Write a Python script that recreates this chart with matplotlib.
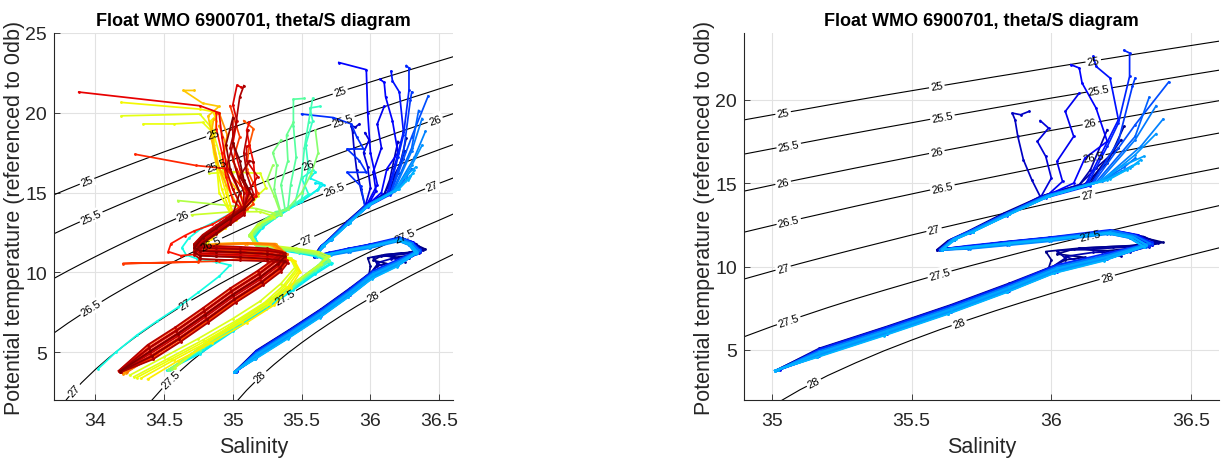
import numpy as np
import matplotlib
matplotlib.use('Agg')
import matplotlib.pyplot as plt

plt.rcParams['font.family'] = ['Liberation Sans', 'DejaVu Sans']

W, H = 1221, 460

# ---------------- isopycnals (sigma-theta), potential temperature along each level ----------------
sig_levels = [25, 25.5, 26, 26.5, 27, 27.5, 28]
sig_sal_grid = [33.7, 33.8, 33.9, 34.0, 34.1, 34.2, 34.3, 34.4, 34.5, 34.6,
                34.7, 34.8, 34.9, 35.0, 35.1, 35.2, 35.3, 35.4, 35.5, 35.6,
                35.7, 35.8, 35.9, 36.0, 36.1, 36.2, 36.3, 36.4, 36.5, 36.6]
nan = np.nan
sig_temp = [
    [14.86, 15.22, 15.57, 15.91, 16.25, 16.58, 16.91, 17.23, 17.55, 17.86, 18.18, 18.48, 18.79, 19.09, 19.38,
     19.68, 19.97, 20.26, 20.54, 20.82, 21.10, 21.38, 21.65, 21.93, 22.20, 22.46, 22.73, 22.99, 23.25, 23.51],
    [12.42, 12.82, 13.21, 13.59, 13.96, 14.33, 14.69, 15.05, 15.40, 15.74, 16.08, 16.41, 16.74, 17.06, 17.38,
     17.70, 18.01, 18.32, 18.62, 18.93, 19.22, 19.52, 19.81, 20.10, 20.38, 20.67, 20.95, 21.22, 21.50, 21.77],
    [9.62, 10.09, 10.54, 10.98, 11.41, 11.83, 12.24, 12.64, 13.03, 13.41, 13.79, 14.16, 14.52, 14.88, 15.23,
     15.57, 15.91, 16.24, 16.57, 16.90, 17.22, 17.54, 17.85, 18.16, 18.46, 18.77, 19.06, 19.36, 19.65, 19.94],
    [6.20, 6.81, 7.38, 7.92, 8.45, 8.95, 9.43, 9.90, 10.36, 10.80, 11.23, 11.65, 12.06, 12.46, 12.86,
     13.24, 13.62, 13.99, 14.35, 14.71, 15.06, 15.40, 15.74, 16.08, 16.41, 16.73, 17.06, 17.37, 17.69, 18.00],
    [1.00, 2.13, 3.08, 3.91, 4.66, 5.35, 6.00, 6.60, 7.18, 7.73, 8.26, 8.76, 9.25, 9.72, 10.18,
     10.62, 11.05, 11.47, 11.89, 12.29, 12.68, 13.07, 13.44, 13.82, 14.18, 14.54, 14.89, 15.24, 15.58, 15.91],
    [nan, nan, nan, nan, nan, -0.87, 0.73, 1.88, 2.85, 3.69, 4.45, 5.14, 5.79, 6.41, 6.98,
     7.54, 8.07, 8.57, 9.06, 9.54, 10.00, 10.44, 10.88, 11.30, 11.71, 12.11, 12.51, 12.90, 13.27, 13.65],
    [nan, nan, nan, nan, nan, nan, nan, nan, nan, nan, nan, -1.23, 0.45, 1.64, 2.61,
     3.47, 4.23, 4.94, 5.59, 6.21, 6.79, 7.35, 7.88, 8.39, 8.88, 9.36, 9.82, 10.26, 10.70, 11.12],
]

# ---------------- profiles (salinity, potential temperature), with cycle numbers ----------------
blue_cycle = [1, 3, 5, 2, 4, 7, 9, 11, 13, 15, 17, 19, 21, 23, 25, 26, 28, 30, 31, 24, 27, 29]
blue_sal = [
    [35.03,35.17,35.41,35.64,35.85,36.00,36.05,36.12,36.02,36.08,36.20,36.30,36.36,36.40,36.30,36.22,36.00,35.85,35.70,35.60,35.64,35.71,35.84,35.98,36.13,36.22],
    [35.02,35.17,35.41,35.64,35.85,36.02,36.15,36.25,36.18,36.10,36.22,36.32,36.38,36.33,36.24,36.02,35.86,35.72,35.61,35.65,35.72,35.85,35.98,36.14,36.25],
    [35.03,35.18,35.42,35.65,35.86,36.03,36.10,36.05,36.15,36.28,36.35,36.30,36.21,36.00,35.85,35.70,35.59,35.64,35.71,35.84,35.97,36.10,36.14,36.20],
    [35.03,35.17,35.41,35.64,35.85,35.99,36.00,35.98,36.10,36.28,36.38,36.30,36.22,36.00,35.85,35.70,35.59,35.63,35.70,35.83,35.97,36.12,36.20,36.26],
    [35.02,35.17,35.41,35.64,35.85,36.01,36.05,36.02,36.15,36.30,36.37,36.28,36.20,35.98,35.82,35.68,35.60,35.65,35.72,35.85,35.98,36.10,36.16,36.24],
    [35.02,35.17,35.41,35.64,35.85,36.02,36.18,36.33,36.28,36.20,36.00,35.84,35.70,35.61,35.65,35.71,35.84,35.96,35.93,35.90,35.88,35.87,35.86,35.89,35.92],
    [35.02,35.16,35.40,35.63,35.84,36.01,36.20,36.35,36.30,36.21,35.99,35.84,35.69,35.60,35.64,35.70,35.82,35.96,36.00,35.98,35.95,35.99,35.96],
    [35.03,35.18,35.41,35.64,35.85,36.02,36.20,36.36,36.31,36.23,36.01,35.86,35.71,35.61,35.65,35.71,35.84,35.98,36.04,36.02,36.08,36.05,36.10],
    [35.02,35.17,35.41,35.64,35.85,36.02,36.20,36.36,36.30,36.21,36.00,35.85,35.70,35.60,35.64,35.70,35.83,35.97,36.08,36.12,36.20,36.16,36.11,36.10,36.07],
    [35.02,35.17,35.41,35.64,35.85,36.02,36.20,36.36,36.31,36.22,36.00,35.85,35.70,35.60,35.64,35.70,35.83,35.97,36.12,36.18,36.24,36.21,36.16,36.15],
    [35.03,35.17,35.41,35.64,35.85,36.02,36.20,36.36,36.29,36.21,35.99,35.84,35.70,35.61,35.65,35.71,35.84,35.98,36.13,36.20,36.24,36.28,36.28,36.26],
    [35.02,35.17,35.40,35.63,35.84,36.01,36.19,36.35,36.30,36.22,36.00,35.85,35.70,35.60,35.65,35.71,35.84,35.98,36.14,36.24,36.29,36.30],
    [35.02,35.17,35.41,35.64,35.85,36.02,36.20,36.36,36.30,36.22,36.00,35.85,35.70,35.61,35.65,35.71,35.84,35.98,36.15,36.30,36.42],
    [35.01,35.16,35.40,35.63,35.84,36.01,36.19,36.34,36.29,36.21,35.99,35.84,35.70,35.60,35.64,35.70,35.83,35.97,36.16,36.30,36.35],
    [35.02,35.17,35.41,35.64,35.85,36.02,36.20,36.35,36.30,36.22,36.00,35.85,35.71,35.61,35.65,35.72,35.85,35.99,36.17,36.30,36.375],
    [35.02,35.17,35.41,35.64,35.85,36.02,36.20,36.34,36.29,36.21,36.00,35.85,35.70,35.60,35.65,35.71,35.84,35.98,36.18,36.32,36.40],
    [35.01,35.16,35.40,35.63,35.84,36.01,36.19,36.33,36.28,36.20,35.99,35.84,35.70,35.61,35.65,35.71,35.84,35.98,36.19,36.30,36.375],
    [35.02,35.17,35.41,35.64,35.85,36.02,36.20,36.34,36.29,36.21,36.00,35.85,35.71,35.61,35.65,35.72,35.85,35.99,36.20,36.28,36.32],
    [35.01,35.16,35.40,35.63,35.84,36.01,36.19,36.33,36.28,36.20,35.99,35.85,35.71,35.61,35.66,35.72,35.85,35.99,36.21,36.27,36.31],
    [35.02,35.16,35.40,35.63,35.84,36.01,36.19,36.33,36.28,36.20,35.99,35.84,35.70,35.61,35.65,35.71,35.84,35.98,36.19,36.26,36.30],
    [35.01,35.16,35.40,35.63,35.84,36.01,36.19,36.33,36.28,36.21,36.00,35.85,35.71,35.61,35.66,35.72,35.85,35.99,36.18,36.25,36.29],
    [35.02,35.17,35.41,35.64,35.85,36.02,36.20,36.34,36.29,36.21,36.00,35.85,35.71,35.61,35.65,35.72,35.85,35.99,36.17,36.25,36.33],
]
blue_tem = [
    [3.84,5.00,6.32,7.62,8.92,9.95,10.40,10.55,10.75,11.05,10.95,11.10,11.30,11.45,11.85,12.15,11.72,11.48,11.22,11.04,11.62,12.12,13.18,14.22,14.95,16.90],
    [3.83,5.05,6.35,7.65,8.95,10.05,10.50,10.65,10.90,11.10,11.20,11.25,11.42,11.80,12.10,11.78,11.50,11.25,11.05,11.66,12.16,13.22,14.28,15.00,17.60],
    [3.86,5.12,6.42,7.72,9.02,10.10,10.30,10.60,10.85,10.90,11.20,11.80,12.10,11.70,11.45,11.18,10.98,11.58,12.08,13.15,14.22,14.90,15.80,18.20],
    [3.85,5.00,6.30,7.60,8.90,9.90,10.40,10.90,11.10,11.25,11.48,11.90,12.15,11.75,11.50,11.20,11.00,11.55,12.10,13.20,14.25,14.95,16.20,18.40],
    [3.82,5.10,6.40,7.70,9.00,10.05,10.50,10.95,11.05,11.20,11.40,11.85,12.05,11.70,11.45,11.15,11.02,11.65,12.15,13.25,14.30,14.90,15.90,17.10],
    [3.80,4.90,6.20,7.50,8.80,9.95,10.60,11.30,11.80,12.05,11.70,11.45,11.20,11.05,11.65,12.10,13.15,14.20,15.20,16.40,17.80,18.80,19.20,19.10,19.30],
    [3.78,4.75,6.05,7.35,8.65,9.80,10.50,11.30,11.80,12.10,11.60,11.35,11.10,11.00,11.55,12.00,13.05,14.10,15.30,16.60,17.50,18.30,18.75],
    [3.82,4.95,6.25,7.55,8.85,10.00,10.70,11.40,11.90,12.15,11.70,11.45,11.20,11.02,11.62,12.08,13.12,14.18,15.10,16.30,17.80,19.30,20.40],
    [3.78,4.65,5.95,7.25,8.55,9.70,10.45,11.30,11.85,12.10,11.65,11.40,11.15,11.00,11.60,12.05,13.10,14.15,15.00,16.50,17.50,19.50,21.00,21.90,22.10],
    [3.80,4.85,6.15,7.45,8.75,9.90,10.60,11.35,11.85,12.10,11.65,11.40,11.15,11.00,11.60,12.05,13.10,14.15,14.85,16.80,18.80,21.30,22.00,22.60],
    [3.84,5.05,6.35,7.65,8.95,10.10,10.80,11.45,11.95,12.20,11.75,11.50,11.25,11.05,11.70,12.15,13.20,14.25,14.95,17.20,18.60,21.40,22.80,22.96],
    [3.78,4.70,6.00,7.30,8.60,9.75,10.45,11.25,11.75,12.05,11.60,11.35,11.10,10.98,11.58,12.02,13.05,14.12,14.85,17.50,20.80,21.30],
    [3.80,4.90,6.20,7.50,8.80,9.95,10.65,11.35,11.85,12.10,11.65,11.40,11.15,11.02,11.62,12.08,13.12,14.20,15.00,18.50,21.06],
    [3.76,4.60,5.90,7.20,8.50,9.65,10.40,11.20,11.80,12.05,11.60,11.35,11.12,11.00,11.58,12.02,13.05,14.10,15.05,17.80,20.14],
    [3.82,4.95,6.25,7.55,8.85,10.00,10.70,11.40,11.85,12.15,11.70,11.45,11.18,11.03,11.63,12.10,13.15,14.20,15.10,17.60,19.64],
    [3.79,4.75,6.05,7.35,8.65,9.80,10.50,11.30,11.80,12.05,11.62,11.38,11.12,11.00,11.60,12.05,13.10,14.15,15.15,17.20,18.84],
    [3.77,4.65,5.95,7.25,8.55,9.70,10.40,11.20,11.75,12.00,11.58,11.35,11.12,11.02,11.62,12.05,13.08,14.15,15.20,16.70,17.96],
    [3.80,4.85,6.15,7.45,8.75,9.90,10.60,11.30,11.80,12.05,11.65,11.42,11.18,11.03,11.65,12.10,13.15,14.22,15.20,15.90,16.40],
    [3.76,4.55,5.85,7.15,8.45,9.60,10.35,11.20,11.75,12.00,11.60,11.38,11.15,11.02,11.65,12.08,13.12,14.20,15.25,15.80,16.20],
    [3.77,4.62,5.92,7.22,8.52,9.68,10.42,11.22,11.72,11.98,11.55,11.30,11.08,11.00,11.68,12.12,13.18,14.25,15.22,15.95,16.50],
    [3.76,4.58,5.88,7.18,8.48,9.62,10.38,11.18,11.70,11.95,11.52,11.28,11.06,10.99,11.70,12.14,13.20,14.28,15.15,15.70,16.05],
    [3.79,4.80,6.10,7.40,8.70,9.85,10.55,11.28,11.78,12.02,11.62,11.40,11.16,11.02,11.64,12.09,13.14,14.21,15.10,16.00,16.60],
]
# profiles shown only in the full-record panel
blue_extra_cycle = [18, 12]
blue_extra_sal = [
    [35.02,35.17,35.41,35.64,35.85,36.02,36.20,36.35,36.30,36.22,36.00,35.85,35.70,35.60,35.64,35.70,35.83,35.96,35.93,35.83,35.97,35.92,35.83,35.95,35.90,35.86,35.73,35.50],
    [35.02,35.17,35.41,35.64,35.85,36.02,36.20,36.35,36.30,36.22,36.00,35.85,35.70,35.60,35.64,35.70,35.83,35.97,36.05,36.00,35.98,35.97,35.77],
]
blue_extra_tem = [
    [3.80,4.88,6.18,7.48,8.78,9.92,10.62,11.35,11.85,12.10,11.65,11.40,11.15,11.00,11.60,12.05,13.10,14.15,15.40,16.27,16.27,17.00,17.73,17.73,18.50,19.30,19.70,19.92],
    [3.81,4.92,6.22,7.52,8.82,9.97,10.66,11.38,11.88,12.12,11.68,11.42,11.16,11.01,11.61,12.06,13.12,14.18,15.50,17.50,20.00,22.70,23.15],
]
green_cycle = [38, 36, 37, 40, 42, 44, 46, 48, 50, 52, 54, 57, 60]
green_sal = [
    [34.02,34.15,34.30,34.45,34.60,34.75,34.90,34.98,34.88,34.74,34.66,34.63,34.68,34.77,34.90,35.05],
    [34.52,34.76,35.00,35.24,35.44,35.60,35.71,35.63,35.48,35.33,35.19,35.15,35.21,35.34,35.49,35.61,35.66,35.60],
    [34.53,34.76,35.00,35.24,35.44,35.60,35.72,35.64,35.49,35.34,35.20,35.16,35.22,35.35,35.50,35.62,35.64,35.56,35.60],
    [34.53,34.76,35.00,35.24,35.44,35.60,35.70,35.62,35.47,35.32,35.18,35.14,35.20,35.33,35.48,35.55,35.50,35.58],
    [34.54,34.77,35.01,35.25,35.45,35.61,35.70,35.62,35.47,35.32,35.18,35.14,35.20,35.33,35.45,35.50,35.55,35.53,35.58,35.56,35.63],
    [34.54,34.77,35.01,35.25,35.45,35.61,35.69,35.61,35.46,35.31,35.17,35.13,35.19,35.32,35.45,35.50,35.52,35.55,35.58],
    [34.55,34.78,35.02,35.26,35.46,35.62,35.68,35.60,35.45,35.30,35.17,35.13,35.19,35.32,35.40,35.42,35.46,35.44,35.44,35.52],
    [34.56,34.79,35.03,35.27,35.47,35.62,35.67,35.59,35.44,35.29,35.16,35.12,35.18,35.31,35.38,35.35,35.40,35.39,35.44],
    [34.53,34.76,35.00,35.24,35.44,35.60,35.70,35.62,35.47,35.32,35.18,35.14,35.20,35.30,35.35,35.30,35.32,35.29,35.35],
    [34.55,34.78,35.02,35.26,35.46,35.61,35.69,35.61,35.46,35.31,35.17,35.13,35.19,35.32,35.40,35.50,35.57,35.62,35.60],
    [34.56,34.79,35.03,35.27,35.47,35.62,35.68,35.60,35.45,35.30,35.16,35.12,35.18,35.30,35.35,35.30,35.25,35.29],
    [34.57,34.80,35.04,35.28,35.48,35.63,35.68,35.60,35.45,35.30,35.16,35.12,35.18,35.28,35.30,35.17,34.95,34.60],
    [34.58,34.81,35.05,35.29,35.49,35.64,35.70,35.62,35.46,35.31,35.17,35.13,35.19,35.28,35.30,35.20,35.00,34.70],
]
green_tem = [
    [3.95,5.00,6.05,6.95,7.80,8.75,9.75,10.45,10.65,10.85,11.10,11.55,12.15,12.75,13.30,14.00],
    [3.85,4.90,6.30,7.70,8.90,9.90,10.50,10.95,11.20,11.40,11.60,12.15,12.80,13.60,14.40,15.15,15.50,15.60],
    [3.87,5.00,6.40,7.80,9.00,10.00,10.60,11.00,11.25,11.42,11.62,12.18,12.85,13.65,14.45,15.20,15.60,15.90,16.30],
    [3.88,5.10,6.50,7.90,9.10,10.10,10.65,11.05,11.28,11.45,11.65,12.20,12.85,13.65,14.45,14.90,15.90,16.40],
    [3.90,5.20,6.60,8.00,9.20,10.20,10.75,11.10,11.30,11.45,11.65,12.20,12.85,13.65,14.30,14.60,16.50,18.00,19.50,20.30,20.40],
    [3.92,5.30,6.70,8.10,9.30,10.30,10.80,11.15,11.35,11.50,11.70,12.25,12.90,13.70,14.30,16.00,17.80,19.40,20.90],
    [3.95,5.40,6.80,8.20,9.40,10.40,10.85,11.20,11.40,11.55,11.75,12.30,12.95,13.75,14.00,15.50,17.20,19.20,20.85,20.90],
    [3.98,5.50,6.90,8.30,9.50,10.45,10.90,11.25,11.45,11.60,11.80,12.35,13.00,13.80,13.90,15.50,17.00,18.60,19.40],
    [3.90,5.15,6.55,7.95,9.15,10.15,10.70,11.10,11.30,11.45,11.65,12.20,12.85,13.40,13.70,15.20,16.70,17.50,18.30],
    [3.94,5.35,6.75,8.15,9.35,10.35,10.85,11.15,11.35,11.50,11.70,12.25,12.90,13.70,14.00,15.00,16.20,17.50,18.90],
    [3.97,5.45,6.85,8.25,9.45,10.40,10.90,11.20,11.40,11.55,11.75,12.30,12.95,13.50,13.60,14.80,15.80,16.70],
    [4.00,5.55,6.95,8.35,9.55,10.50,10.95,11.25,11.45,11.60,11.80,12.35,13.00,13.50,13.70,14.00,14.20,14.50],
    [4.02,5.60,7.00,8.40,9.60,10.55,11.00,11.30,11.50,11.65,11.85,12.40,13.05,13.40,13.50,13.80,13.80,13.60],
]
yellow_cycle = [62, 63, 64, 65, 66]
yellow_sal = [
    [34.25,34.50,34.75,35.00,35.20,35.35,35.45,35.42,35.20,35.00,34.85,34.77,34.82,34.92,35.03,35.13,35.18,35.24,35.20,35.00,34.83],
    [34.28,34.53,34.78,35.03,35.23,35.37,35.46,35.42,35.20,35.00,34.85,34.77,34.82,34.92,35.00,34.95,34.90,34.85,34.76,34.19],
    [34.30,34.55,34.80,35.05,35.25,35.38,35.47,35.43,35.21,35.01,34.86,34.78,34.83,34.93,35.00,34.90,34.88,34.85,34.78,34.57,34.35],
    [34.33,34.57,34.82,35.07,35.27,35.40,35.48,35.44,35.22,35.02,34.87,34.79,34.84,34.94,35.00,34.92,34.86,34.84,34.90,34.76,34.19],
    [34.38,34.60,34.85,35.10,35.30,35.42,35.49,35.45,35.22,35.02,34.87,34.79,34.84,34.94,35.02,34.95,34.90,34.86,34.88,34.86],
]
yellow_tem = [
    [3.55,4.70,5.85,7.10,8.20,9.30,10.30,10.90,11.30,11.40,11.45,11.70,12.30,12.95,13.55,14.15,14.80,15.30,16.20,16.30,16.20],
    [3.45,4.60,5.75,7.00,8.10,9.20,10.20,10.85,11.25,11.35,11.40,11.65,12.25,12.90,13.40,15.50,17.50,19.00,19.92,19.81],
    [3.40,4.55,5.70,6.95,8.05,9.15,10.15,10.80,11.20,11.30,11.40,11.60,12.20,12.85,13.40,15.00,17.00,18.80,19.40,19.30,19.30],
    [3.35,4.50,5.65,6.90,8.00,9.10,10.10,10.75,11.15,11.25,11.35,11.55,12.15,12.80,13.35,15.20,17.50,19.50,20.00,20.23,20.65],
    [3.30,4.45,5.60,6.85,7.95,9.05,10.05,10.70,11.10,11.20,11.30,11.50,12.10,12.75,13.30,15.00,16.50,18.00,19.50,20.00],
]
orange_cycle = [70, 72, 74, 76, 78]
orange_sal = [
    [34.20,34.42,34.62,34.82,35.02,35.22,35.35,35.38,35.30,35.10,34.90,34.78,34.74,34.80,34.90,35.00,35.10,35.05,34.90,34.85,34.82,34.90,34.78,34.64,34.72],
    [34.21,34.43,34.63,34.83,35.03,35.23,35.35,35.37,35.28,35.08,34.88,34.77,34.73,34.79,34.89,34.99,35.05,34.95,34.88,34.84,34.86],
    [34.22,34.44,34.64,34.84,35.04,35.24,35.36,35.39,35.31,35.11,34.91,34.79,34.75,34.81,34.91,35.01,35.08,35.00,34.92,34.95,34.90],
    [34.20,34.41,34.61,34.81,35.01,35.21,35.34,35.38,35.29,35.09,34.89,34.77,34.73,34.79,34.89,34.99,35.10,35.00,34.93,34.96,34.90],
    [34.23,34.45,34.65,34.85,35.05,35.25,35.36,35.39,35.30,35.10,34.90,34.78,34.74,34.80,34.90,35.00,35.12,35.05,35.00],
]
orange_tem = [
    [3.70,4.85,5.95,7.10,8.35,9.45,10.40,11.10,11.75,11.80,11.75,11.65,11.60,12.20,12.80,13.40,14.00,15.00,16.50,18.50,19.80,20.40,20.60,21.40,21.40],
    [3.68,4.80,5.90,7.05,8.30,9.40,10.35,11.05,11.70,11.85,11.80,11.70,11.65,12.25,12.85,13.45,13.90,15.50,17.00,18.50,19.60],
    [3.72,4.90,6.00,7.15,8.40,9.50,10.45,11.15,11.80,11.85,11.78,11.68,11.62,12.22,12.82,13.42,13.95,15.20,16.80,18.00,19.20],
    [3.66,4.78,5.88,7.02,8.28,9.38,10.33,11.08,11.72,11.78,11.72,11.62,11.58,12.18,12.78,13.38,14.00,16.00,17.50,18.60,20.00],
    [3.74,4.92,6.02,7.18,8.42,9.52,10.47,11.12,11.78,11.82,11.76,11.66,11.62,12.22,12.82,13.42,14.60,15.60,17.20],
]
red_cycle = [82, 85, 87, 89, 90, 91, 92, 93, 94, 95, 96, 97, 99, 100]
red_sal = [
    [34.17,34.38,34.58,34.78,34.98,35.18,35.31,35.37,35.25,35.05,34.88,34.76,34.72,34.78,34.88,34.98,35.08,35.15,35.18,35.10,35.12,35.15,35.08],
    [34.19,34.42,34.62,34.82,35.02,35.22,35.35,35.39,35.25,35.05,34.90,34.20,34.75,34.76,34.72,34.78,34.88,34.98,35.08,35.15,35.10,35.00,35.05,34.98],
    [34.18,34.39,34.59,34.79,34.99,35.19,35.32,35.38,35.25,35.05,34.88,34.76,34.72,34.78,34.88,34.98,35.08,35.15,35.05,34.95,34.73,34.29],
    [34.18,34.41,34.61,34.81,35.01,35.21,35.34,35.38,35.25,35.05,34.88,34.76,34.62,34.53,34.55,34.65,34.72,34.85,34.95,35.05,35.00,34.95,34.92,34.88,34.88],
    [34.18,34.40,34.60,34.80,35.00,35.20,35.33,35.38,35.25,35.05,34.88,34.76,34.72,34.78,34.88,34.98,35.08,35.17,35.15,35.12,35.10,35.12],
    [34.17,34.39,34.59,34.79,34.99,35.19,35.32,35.37,35.25,35.05,34.88,34.76,34.72,34.78,34.88,34.98,35.08,35.05,34.95,34.92,34.90,34.76,33.88],
    [34.19,34.41,34.61,34.81,35.01,35.21,35.34,35.39,35.25,35.05,34.88,34.76,34.72,34.78,34.88,34.98,35.08,35.10,35.05,35.00,35.03,35.00,35.03,35.06],
    [34.18,34.40,34.60,34.80,35.00,35.20,35.33,35.38,35.25,35.05,34.88,34.76,34.72,34.78,34.88,34.98,35.08,35.12,35.18,35.10,35.10],
    [34.18,34.40,34.60,34.80,35.00,35.20,35.33,35.38,35.25,35.05,34.88,34.76,34.72,34.78,34.88,34.98,35.08,35.00,34.95,35.00,35.00],
    [34.17,34.38,34.58,34.78,34.98,35.18,35.31,35.36,35.25,35.05,34.88,34.76,34.72,34.78,34.88,34.98,35.08,35.15,35.10,35.08,35.11],
    [34.19,34.42,34.62,34.82,35.02,35.22,35.35,35.40,35.25,35.05,34.88,34.76,34.72,34.78,34.88,34.98,35.08,35.08,35.02,34.98,35.02,35.05,35.08],
    [34.18,34.39,34.59,34.79,34.99,35.19,35.32,35.38,35.25,35.05,34.88,34.76,34.72,34.78,34.88,34.98,35.08,35.12,35.05,35.12,35.15],
    [34.18,34.41,34.61,34.81,35.01,35.21,35.34,35.38,35.25,35.05,34.88,34.76,34.72,34.78,34.88,34.98,35.05,34.98,34.95,34.98,35.00],
    [34.18,34.40,34.60,34.80,35.00,35.20,35.33,35.38,35.25,35.05,34.88,34.76,34.72,34.78,34.88,34.98,35.08,35.15,35.08,35.05,35.00],
]
red_tem = [
    [3.82,5.40,6.50,7.70,8.95,10.05,10.85,11.25,11.45,11.55,11.60,11.60,11.75,12.30,12.90,13.50,14.10,14.60,15.00,16.50,18.00,19.00,19.50],
    [3.76,4.60,5.70,6.90,8.15,9.25,10.15,10.70,10.80,10.85,10.70,10.55,10.65,11.00,11.30,11.95,12.55,13.15,13.75,14.30,15.20,17.00,18.50,20.44],
    [3.80,5.20,6.30,7.50,8.75,9.85,10.70,11.15,11.30,11.40,11.45,11.50,11.65,12.20,12.80,13.40,14.00,14.80,15.50,16.50,16.70,17.40],
    [3.78,4.80,5.90,7.10,8.35,9.45,10.30,10.80,10.95,11.05,11.10,11.15,11.05,11.30,11.80,12.30,12.60,13.00,13.50,14.10,14.50,16.00,17.50,19.00,20.00],
    [3.80,5.00,6.10,7.30,8.55,9.65,10.50,10.95,11.10,11.20,11.25,11.30,11.50,12.10,12.70,13.30,13.90,14.80,16.90,18.00,18.90,19.40],
    [3.81,5.30,6.40,7.60,8.85,9.95,10.80,11.20,11.40,11.50,11.55,11.60,11.75,12.30,12.90,13.50,14.10,15.00,16.80,18.50,20.00,20.44,21.30],
    [3.78,4.70,5.80,7.00,8.25,9.35,10.20,10.75,10.85,10.95,11.00,11.05,11.25,11.90,12.50,13.10,13.70,15.00,16.50,18.10,19.50,20.50,21.73,21.60],
    [3.80,5.10,6.20,7.40,8.65,9.75,10.60,11.05,11.20,11.30,11.35,11.40,11.60,12.20,12.80,13.40,14.00,15.20,16.00,17.00,17.90],
    [3.79,4.90,6.00,7.20,8.45,9.55,10.40,10.90,11.00,11.10,11.15,11.20,11.40,12.00,12.60,13.20,13.80,15.20,16.50,18.00,19.70],
    [3.83,5.45,6.55,7.75,9.00,10.10,10.90,11.30,11.50,11.60,11.65,11.65,11.80,12.35,12.95,13.55,14.15,14.90,16.20,17.50,18.90],
    [3.76,4.55,5.65,6.85,8.10,9.20,10.05,10.60,10.70,10.75,10.80,10.85,11.10,11.80,12.40,13.00,13.60,15.00,16.50,17.80,19.20,21.00,21.70],
    [3.81,5.25,6.35,7.55,8.80,9.90,10.75,11.20,11.35,11.45,11.50,11.55,11.70,12.25,12.85,13.45,14.05,15.00,16.00,17.00,16.90],
    [3.78,4.75,5.85,7.05,8.30,9.40,10.25,10.70,10.85,10.95,11.00,11.05,11.25,11.85,12.45,13.05,15.00,16.50,18.00,19.00,19.70],
    [3.80,5.05,6.15,7.35,8.60,9.70,10.55,11.00,11.15,11.25,11.30,11.35,11.55,12.15,12.75,13.35,13.95,14.60,15.80,17.00,18.10],
]
n_cycles = 100

x_ticks_left = [34, 34.5, 35, 35.5, 36, 36.5]
x_ticks_right = [35, 35.5, 36, 36.5]
y_ticks_left = [5, 10, 15, 20, 25]
y_ticks_right = [5, 10, 15, 20]
title_text = 'Float WMO 6900701, theta/S diagram'
xlabel_text = 'Salinity'
ylabel_text = 'Potential temperature (referenced to 0db)'

label_pos_left = [[33.94, 34.86, 35.78], [33.97, 34.88, 35.80], [34.64, 35.55, 36.47],
                  [33.97, 34.84, 35.74], [33.85, 34.65, 35.54, 36.45], [34.55, 35.38, 36.25],
                  [35.20, 36.02]]
label_pos_right = [[35.04, 35.59, 36.15], [35.06, 35.61, 36.17], [35.04, 35.59, 36.14],
                   [35.06, 35.61, 36.15], [35.04, 35.58, 36.13], [35.06, 35.60, 36.14],
                   [35.15, 35.67, 36.20]]

# ---------------- drawing ----------------
fig = plt.figure(figsize=(W/100, H/100), dpi=100)
ax_col = (0.15, 0.15, 0.15)
cmap = plt.get_cmap('jet')


def make_ax(x0, x1, xlim, ylim, xt, yt):
    ax = fig.add_axes([x0/W, (H-401)/H, (x1-x0)/W, 367/H])
    ax.set_xlim(*xlim)
    ax.set_ylim(*ylim)
    ax.set_xticks(xt)
    ax.set_xticklabels([f'{v:g}' for v in xt])
    ax.set_yticks(yt)
    ax.set_yticklabels([f'{v:g}' for v in yt])
    ax.grid(True, color='#e2e2e2', lw=0.8)
    ax.set_axisbelow(True)
    for s in ['top', 'right']:
        ax.spines[s].set_visible(False)
    for s in ['left', 'bottom']:
        ax.spines[s].set_color(ax_col)
        ax.spines[s].set_linewidth(0.8)
    ax.tick_params(direction='in', length=4, width=0.6, colors=ax_col, labelsize=14)
    ax.tick_params(axis='x', pad=9)
    ax.tick_params(axis='y', pad=5)
    ax.set_title(title_text, fontsize=13, fontweight='bold', pad=6)
    ax.set_xlabel(xlabel_text, fontsize=15.5, color=ax_col, labelpad=5)
    ax.set_ylabel(ylabel_text, fontsize=15.5, color=ax_col, labelpad=0.5)
    return ax


def draw_isopycnals(ax, label_pos):
    sg = np.array(sig_sal_grid)
    for lev, trow, lp in zip(sig_levels, sig_temp, label_pos):
        tr = np.array(trow)
        ok = ~np.isnan(tr)
        S, T = sg[ok], tr[ok]
        ax.plot(S, T, color='k', lw=0.8, zorder=1)
        for s0 in lp:
            t0 = np.interp(s0, S, T)
            p1 = ax.transData.transform((s0-0.03, np.interp(s0-0.03, S, T)))
            p2 = ax.transData.transform((s0+0.03, np.interp(s0+0.03, S, T)))
            ang = np.degrees(np.arctan2(p2[1]-p1[1], p2[0]-p1[0]))
            kw = dict(rotation=ang, rotation_mode='anchor', ha='center', va='center', fontsize=8)
            # gap in the contour line
            ax.text(s0, t0, f'{lev:g}', color='none', zorder=1.5,
                    bbox=dict(fc='white', ec='none', pad=1.2), **kw)
            # label drawn above the profiles
            ax.text(s0, t0, f'{lev:g}', color='k', zorder=5, **kw)


def draw_profiles(ax, groups):
    items = []
    for cyc, sal, tem in groups:
        for c, s, t in zip(cyc, sal, tem):
            items.append((c, s, t))
    items.sort(key=lambda it: it[0])
    for c, s, t in items:
        col = cmap((c-1)/(n_cycles-1))
        ax.plot(s, t, '-', color=col, lw=1.25, marker='.', ms=2.0, zorder=3)


ax1 = make_ax(54, 453, (33.7, 36.6), (2, 25), x_ticks_left, y_ticks_left)
draw_isopycnals(ax1, label_pos_left)
draw_profiles(ax1, [(blue_cycle, blue_sal, blue_tem),
                    (blue_extra_cycle, blue_extra_sal, blue_extra_tem),
                    (green_cycle, green_sal, green_tem),
                    (yellow_cycle, yellow_sal, yellow_tem),
                    (orange_cycle, orange_sal, orange_tem),
                    (red_cycle, red_sal, red_tem)])

ax2 = make_ax(744, 1219, (34.9, 36.6), (2, 24), x_ticks_right, y_ticks_right)
draw_isopycnals(ax2, label_pos_right)
draw_profiles(ax2, [(blue_cycle, blue_sal, blue_tem)])

fig.savefig('out.png', dpi=100)
